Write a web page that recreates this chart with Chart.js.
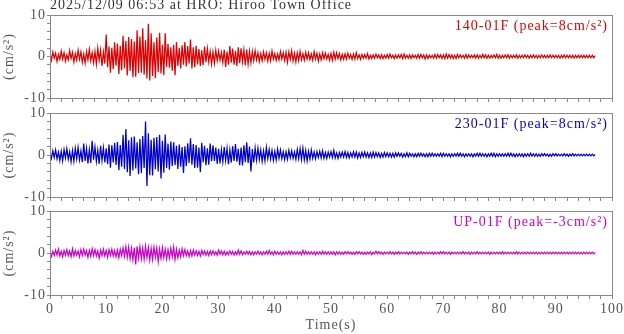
<!DOCTYPE html>
<html><head><meta charset="utf-8">
<script src="https://cdn.jsdelivr.net/npm/chart.js@4.4.1/dist/chart.umd.min.js"></script>
<style>
html,body{margin:0;padding:0;background:#fff;}
#wrap{position:relative;width:624px;height:334px;overflow:hidden;}
canvas{position:absolute;left:0;display:block;}
</style></head><body>
<div id="wrap">
<canvas id="c1" width="624" height="105" style="top:0px"></canvas>
<canvas id="c2" width="624" height="98" style="top:105px"></canvas>
<canvas id="c3" width="624" height="131" style="top:203px"></canvas>
</div>
<script>
const stationTitle = '2025/12/09 06:53 at HRO: Hiroo Town Office';
const xTickLabels = [0, 10, 20, 30, 40, 50, 60, 70, 80, 90, 100];
const yTickLabels = [-10, 0, 10];
const sampleStep = 0.25; // seconds between samples
const labels = ['140-01F (peak=8cm/s²)', '230-01F (peak=8cm/s²)', 'UP-01F (peak=-3cm/s²)'];

const ch140 = [
0.6,-0.9,1.1,-0.4, 0.8,-1.2,0.5,-0.7, 1.3,-0.6,0.9,-1.1, 0.4,-0.8,1.4,-0.5, 1.0,-1.3,0.7,-0.9,
1.5,-0.7,1.1,-1.4, 0.6,-1.6,1.2,-0.8, 1.7,-1.0,0.9,-1.5, 1.2,-1.8,2.0,-0.9, 1.6,-2.3,1.1,-1.7,
5.3,-2.6,2.4,-3.9, 2.1,-3.0,3.4,-2.2, 3.1,-4.2,2.6,-3.3, 5.0,-2.8,3.8,-4.6, 4.7,-3.5,4.2,-5.0,
3.6,-4.9,6.3,-4.0, 4.8,-3.9,6.8,-4.4, 3.9,-5.3,7.9,-5.8, 5.6,-4.7,3.4,-5.2, 4.6,-3.8,5.7,-4.1,
2.8,-4.5,5.6,-2.5, 3.0,-2.7,2.2,-3.4, 2.8,-4.5,3.5,-2.3, 2.1,-2.9,2.7,-2.0, 3.5,-2.4,2.5,-1.7,
4.1,-2.9,2.2,-2.6, 2.6,-1.9,1.8,-2.3, 1.5,-2.1,2.4,-1.4, 1.9,-1.3,1.2,-1.8, 1.1,-1.6,1.5,-1.0,
1.3,-0.9,1.0,-1.4, 1.6,-2.5,1.2,-2.0, 2.5,-1.5,1.9,-2.0, 1.4,-2.3,2.2,-1.6, 2.0,-1.3,1.6,-2.1,
1.7,-1.8,1.3,-1.5, 1.2,-1.0,1.4,-0.8, 0.9,-1.2,0.7,-1.0, 1.1,-0.7,0.9,-1.1, 0.8,-1.0,1.3,-0.6,
0.7,-0.9,0.6,-0.8, 1.2,-0.6,0.9,-1.0, 1.0,-1.4,1.1,-0.7, 1.4,-1.1,0.8,-1.3, 0.9,-1.0,1.2,-0.8,
0.7,-0.9,1.0,-0.6, 0.9,-0.7,0.6,-0.9, 1.2,-0.6,0.8,-1.1, 0.6,-0.8,0.9,-0.5, 0.8,-0.6,0.5,-0.9,
0.7,-0.9,1.0,-0.6, 0.9,-0.5,0.7,-0.8, 0.5,-0.7,0.6,-0.6, 0.8,-0.4,0.5,-0.7, 0.6,-0.6,0.9,-0.5,
0.4,-0.7,0.5,-0.4, 0.5,-0.4,0.7,-0.6, 0.3,-0.5,0.4,-0.4, 0.6,-0.3,0.4,-0.5, 0.4,-0.5,0.3,-0.4,
0.5,-0.4,0.6,-0.3, 0.3,-0.5,0.4,-0.4, 0.4,-0.3,0.5,-0.5, 0.6,-0.4,0.3,-0.4, 0.4,-0.5,0.4,-0.3,
0.3,-0.4,0.5,-0.4, 0.5,-0.3,0.4,-0.6, 0.4,-0.5,0.3,-0.3, 0.3,-0.4,0.5,-0.4, 0.5,-0.3,0.4,-0.5,
0.4,-0.5,0.6,-0.4, 0.5,-0.4,0.4,-0.5, 0.3,-0.5,0.5,-0.3, 0.4,-0.3,0.3,-0.4, 0.5,-0.4,0.4,-0.3,
0.3,-0.3,0.4,-0.4, 0.4,-0.4,0.3,-0.3, 0.5,-0.3,0.4,-0.4, 0.3,-0.4,0.3,-0.3, 0.4,-0.3,0.5,-0.4,
0.3,-0.4,0.3,-0.3, 0.4,-0.3,0.4,-0.4, 0.3,-0.3,0.3,-0.3, 0.4,-0.4,0.3,-0.3, 0.3,-0.3,0.4,-0.3,
0.3,-0.4,0.3,-0.3, 0.4,-0.3,0.3,-0.4, 0.3,-0.3,0.4,-0.3, 0.3,-0.3,0.3,-0.3, 0.4,-0.3,0.3,-0.3,
0.3,-0.3,0.3,-0.4, 0.3,-0.3,0.4,-0.3, 0.3,-0.3,0.3,-0.3, 0.3,-0.4,0.3,-0.3, 0.3,-0.3,0.3,-0.3,
0.3,-0.3,0.3,-0.3, 0.3,-0.3,0.3,-0.3,
0.2];

const ch230 = [
0.5,-0.8,1.0,-0.6, 1.2,-0.9,0.7,-1.3, 0.9,-1.4,1.3,-0.7, 1.5,-1.0,0.8,-1.6, 1.1,-1.5,1.6,-0.9,
1.8,-1.2,1.0,-1.7, 2.7,-1.4,1.6,-2.0, 1.3,-1.9,3.4,-1.1, 1.9,-1.5,1.2,-2.1, 2.2,-1.3,1.7,-1.8,
1.6,-2.2,2.5,-3.0, 2.3,-1.8,2.9,-2.4, 3.1,-3.6,2.4,-2.8, 4.8,-3.3,6.2,-4.1, 3.5,-5.0,4.2,-3.7,
4.4,-3.2,3.0,-4.6, 3.8,-4.3,4.5,-3.1, 8.0,-7.4,5.2,-4.8, 3.6,-4.9,4.1,-3.4, 4.3,-3.9,4.8,-5.6,
3.4,-4.2,4.9,-3.1, 2.7,-3.5,3.2,-2.6, 3.0,-2.4,2.2,-3.3, 2.5,-2.8,1.9,-4.3, 2.1,-2.6,2.8,-1.9,
4.0,-2.3,2.6,-3.1, 2.4,-3.0,1.8,-4.1, 2.9,-1.7,2.2,-2.4, 1.6,-2.3,2.7,-1.5, 2.3,-1.4,1.8,-2.1,
1.5,-2.0,1.3,-1.6, 1.9,-1.3,1.6,-2.2, 1.2,-1.8,2.1,-1.4, 2.6,-1.6,1.5,-2.4, 1.8,-2.5,2.3,-1.7,
3.0,-1.9,2.0,-3.9, 1.4,-1.8,1.7,-1.2, 1.6,-1.1,1.2,-1.5, 1.0,-1.4,1.8,-0.9, 1.3,-1.0,1.1,-1.3,
0.9,-1.2,1.4,-0.8, 1.2,-0.9,0.8,-1.1, 0.8,-1.0,1.1,-0.7, 1.0,-0.8,0.7,-1.0, 1.3,-0.9,1.5,-1.1,
1.6,-1.2,1.1,-1.4, 0.9,-1.0,1.2,-0.8, 0.7,-0.9,0.8,-0.6, 0.9,-0.7,1.0,-0.8, 0.6,-0.8,0.7,-0.5,
0.8,-0.6,1.1,-0.7, 0.5,-0.8,0.6,-0.5, 0.7,-0.5,0.8,-0.6, 0.6,-0.7,0.5,-0.5, 0.8,-0.5,0.7,-0.7,
0.5,-0.6,0.6,-0.4, 0.7,-0.5,0.5,-0.6, 0.5,-0.6,0.7,-0.5, 0.6,-0.4,0.5,-0.6, 0.4,-0.5,0.6,-0.4,
0.5,-0.4,0.4,-0.5, 0.4,-0.5,0.5,-0.3, 0.5,-0.3,0.4,-0.5, 0.3,-0.4,0.5,-0.4, 0.4,-0.3,0.3,-0.4,
0.3,-0.4,0.4,-0.3, 0.4,-0.3,0.3,-0.4, 0.3,-0.4,0.4,-0.3, 0.4,-0.3,0.3,-0.3, 0.3,-0.3,0.4,-0.4,
0.4,-0.3,0.3,-0.3, 0.3,-0.4,0.3,-0.3, 0.3,-0.3,0.4,-0.3, 0.4,-0.3,0.3,-0.4, 0.3,-0.3,0.3,-0.3,
0.3,-0.4,0.3,-0.3, 0.4,-0.3,0.4,-0.3, 0.3,-0.3,0.3,-0.4, 0.3,-0.3,0.4,-0.3, 0.4,-0.4,0.3,-0.3,
0.3,-0.3,0.3,-0.3, 0.3,-0.3,0.4,-0.3, 0.4,-0.3,0.3,-0.4, 0.3,-0.3,0.3,-0.3, 0.3,-0.4,0.3,-0.3,
0.3,-0.3,0.4,-0.3, 0.3,-0.3,0.3,-0.3, 0.2,-0.3,0.3,-0.2, 0.3,-0.2,0.2,-0.3, 0.2,-0.3,0.3,-0.2,
0.3,-0.2,0.2,-0.2, 0.2,-0.2,0.3,-0.2, 0.2,-0.3,0.2,-0.2, 0.3,-0.2,0.2,-0.2, 0.2,-0.2,0.2,-0.2,
0.2,-0.2,0.2,-0.2, 0.2,-0.2,0.2,-0.2,
0.1];

const chUP = [
0.5,-0.8,0.4,-0.6, 0.7,-0.5,0.9,-0.7, 0.4,-0.9,0.6,-0.5, 0.8,-0.6,0.5,-0.9, 1.0,-0.7,0.6,-0.5,
0.5,-0.9,0.8,-0.6, 0.9,-0.5,0.6,-1.0, 0.6,-0.8,1.0,-0.6, 0.8,-0.7,0.5,-1.2, 0.7,-0.6,0.9,-0.7,
0.6,-1.0,0.8,-0.6, 0.9,-0.7,0.6,-0.9, 0.7,-1.1,0.9,-0.6, 1.2,-0.8,1.5,-1.0, 1.4,-1.3,1.1,-1.6,
1.3,-2.7,1.6,-1.2, 1.5,-1.4,1.2,-1.5, 1.6,-1.1,1.3,-1.7, 1.1,-1.5,1.4,-1.0, 1.2,-2.0,1.0,-1.3,
1.3,-1.1,0.9,-1.4, 0.8,-1.2,1.1,-0.9, 1.4,-1.5,0.9,-1.1, 0.7,-0.9,1.0,-0.6, 0.8,-0.6,0.5,-0.8,
0.6,-0.7,0.7,-0.5, 0.5,-0.6,0.4,-0.7, 0.6,-0.4,0.5,-0.5, 0.4,-0.6,0.5,-0.4, 0.5,-0.4,0.3,-0.5,
0.7,-0.3,0.5,-0.4, 0.4,-0.5,0.3,-0.4, 0.5,-0.3,0.4,-0.5, 0.3,-0.4,0.7,-0.3, 0.5,-0.4,0.3,-0.3,
0.4,-0.3,0.4,-0.4, 0.3,-0.4,0.3,-0.3, 0.4,-0.3,0.3,-0.4, 0.3,-0.3,0.4,-0.3, 0.6,-0.3,0.3,-0.4,
0.4,-0.3,0.3,-0.3, 0.3,-0.4,0.3,-0.3, 0.3,-0.3,0.4,-0.3, 0.4,-0.3,0.3,-0.3, 0.3,-0.3,0.3,-0.4,
0.6,-0.3,0.4,-0.3, 0.3,-0.3,0.3,-0.3, 0.3,-0.4,0.3,-0.3, 0.3,-0.3,0.4,-0.3, 0.3,-0.3,0.3,-0.3,
0.3,-0.3,0.3,-0.4, 0.3,-0.3,0.3,-0.3, 0.2,-0.3,0.3,-0.2, 0.3,-0.2,0.2,-0.3, 0.2,-0.3,0.3,-0.2,
0.3,-0.2,0.2,-0.3, 0.2,-0.3,0.2,-0.2, 0.3,-0.4,0.2,-0.2, 0.4,-0.2,0.3,-0.2, 0.2,-0.3,0.2,-0.2,
0.2,-0.2,0.3,-0.2, 0.2,-0.3,0.2,-0.2, 0.3,-0.2,0.2,-0.2, 0.2,-0.2,0.2,-0.3, 0.2,-0.2,0.3,-0.2,
0.2,-0.3,0.2,-0.2, 0.3,-0.2,0.2,-0.2, 0.2,-0.2,0.2,-0.2, 0.2,-0.3,0.2,-0.2, 0.2,-0.2,0.3,-0.2,
0.3,-0.2,0.2,-0.2, 0.2,-0.3,0.2,-0.2, 0.2,-0.2,0.2,-0.2, 0.2,-0.2,0.3,-0.2, 0.2,-0.2,0.2,-0.3,
0.2,-0.2,0.2,-0.2, 0.3,-0.2,0.2,-0.2, 0.2,-0.2,0.2,-0.2, 0.2,-0.3,0.2,-0.2, 0.2,-0.2,0.2,-0.2,
0.2,-0.2,0.3,-0.2, 0.2,-0.2,0.2,-0.2, 0.2,-0.2,0.2,-0.2, 0.3,-0.2,0.2,-0.2, 0.2,-0.2,0.2,-0.2,
0.2,-0.2,0.2,-0.2, 0.2,-0.2,0.2,-0.2, 0.2,-0.2,0.2,-0.2, 0.2,-0.2,0.2,-0.2, 0.2,-0.2,0.2,-0.2,
0.2,-0.2,0.2,-0.2, 0.2,-0.2,0.2,-0.2, 0.2,-0.2,0.2,-0.2, 0.2,-0.2,0.2,-0.2, 0.2,-0.2,0.2,-0.2,
0.2,-0.2,0.2,-0.2, 0.2,-0.2,0.2,-0.2,
0.1];

const FONT = {family: 'Liberation Serif', size: 14};
const TICK_COLOR = '#555';
const FRAME_COLOR = '#888';

const deco = {
  id: 'deco',
  beforeDraw(chart) { chart.ctx.letterSpacing = '1px'; },
  afterDatasetsDraw(chart, args, o) {
    const ctx = chart.ctx, a = chart.chartArea;
    ctx.save();
    ctx.strokeStyle = FRAME_COLOR;
    ctx.lineWidth = 1;
    ctx.strokeRect(a.left + 0.5, a.top + 0.5, a.right - a.left, a.bottom - a.top);
    ctx.font = '14px "Liberation Serif"';
    ctx.textBaseline = 'alphabetic';
    ctx.fillStyle = o.color;
    ctx.textAlign = 'right';
    ctx.fillText(o.label, a.right - 4, a.top + 14.5);
    if (o.title) {
      ctx.fillStyle = '#333';
      ctx.textAlign = 'left';
      ctx.fillText(o.title, a.left, 9);
    }
    ctx.restore();
  }
};

function makeChart(id, values, color, label, cfg) {
  const pts = values.map((v, i) => ({x: i * sampleStep, y: v}));
  return new Chart(document.getElementById(id), {
    type: 'line',
    data: {datasets: [{data: pts, borderColor: color, borderWidth: 1.25, pointRadius: 0, tension: 0, fill: false}]},
    options: {
      responsive: false, animation: false, events: [], parsing: false, normalized: true,
      layout: {padding: {top: cfg.padTop, right: 12, left: 0, bottom: 0}},
      plugins: {
        legend: {display: false}, tooltip: {enabled: false},
        deco: {color: color, label: label, title: cfg.title}
      },
      scales: {
        x: {
          type: 'linear', min: 0, max: 100, position: 'bottom',
          afterFit(s) { s.height = cfg.xH; s.paddingLeft = 0; s.paddingRight = 0; },
          border: {display: false},
          grid: {drawOnChartArea: false, drawTicks: true, tickLength: 4, color: FRAME_COLOR, lineWidth: 1},
          ticks: {stepSize: 2, maxTicksLimit: 200, autoSkip: false, maxRotation: 0, minRotation: 0, padding: 2,
                  color: TICK_COLOR, font: FONT,
                  callback: v => (cfg.showX && xTickLabels.includes(v)) ? String(v) : ''},
          title: {display: cfg.showX, text: 'Time(s)', color: TICK_COLOR, font: FONT, padding: {top: 0, bottom: 0}}
        },
        y: {
          min: -10, max: 10,
          afterFit(s) { s.width = 50; s.paddingTop = 0; s.paddingBottom = 0; },
          border: {display: false},
          grid: {drawOnChartArea: false, drawTicks: true, tickLength: 3, color: FRAME_COLOR, lineWidth: 1},
          ticks: {stepSize: 2, maxTicksLimit: 200, autoSkip: false, padding: 1, color: TICK_COLOR, font: FONT,
                  callback: v => yTickLabels.includes(v) ? String(v) : ''},
          title: {display: true, text: '(cm/s²)', color: TICK_COLOR, font: FONT, padding: {top: 1, bottom: 0}}
        }
      }
    },
    plugins: [deco]
  });
}

makeChart('c1', ch140, '#dd0000', labels[0], {padTop: 15, xH: 7, showX: false, title: stationTitle});
makeChart('c2', ch230, '#0000cc', labels[1], {padTop: 8, xH: 6, showX: false});
makeChart('c3', chUP, '#cc00cc', labels[2], {padTop: 8, xH: 39, showX: true});
</script>
</body></html>
